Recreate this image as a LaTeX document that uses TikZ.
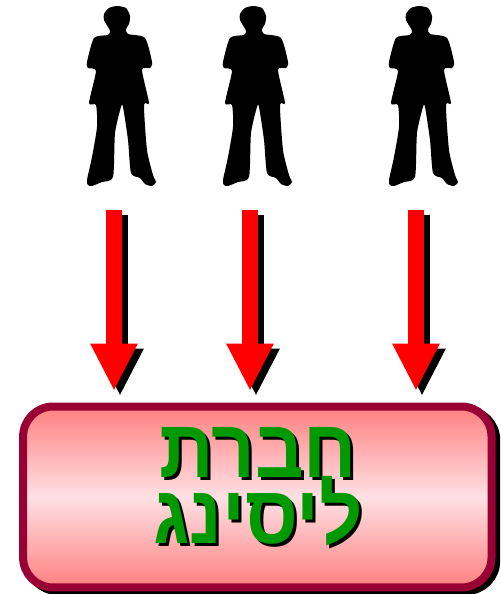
\documentclass[tikz,border=0pt]{standalone}
\usepackage{fontspec}
\usepackage{xcolor}
\usetikzlibrary{arrows.meta,positioning,calc}
\TeXXeTstate=1
\newfontfamily\hebfont[Script=Hebrew,FakeStretch=0.92]{Liberation Sans}
\definecolor{boxedge}{RGB}{153,0,51}
\definecolor{boxouter}{RGB}{255,128,128}
\definecolor{boxinner}{RGB}{255,224,228}
\definecolor{textgreen}{RGB}{0,153,0}
\tikzset{
  listbox/.style={rounded corners=0.6cm, minimum width=9.37cm, minimum height=3.62cm, line width=0.16cm},
  listtext/.style={font=\hebfont\fontsize{47}{47}\selectfont\bfseries, inner sep=0pt, anchor=base},
  downarr/.style={-{Triangle[length=0.95cm,width=0.88cm]}, line width=0.32cm},
  person/.pic={
    \fill[black] plot[smooth cycle, tension=0.4] coordinates {
      (-2,6) (-10,8) (-15,14) (-15,20) (-11,27) (-9,31) (-11,35) (-25,38) (-32,62) (-31,68) (-23,71) (-30,103)
      (-23,105) (-22,127) (-27,157) (-32,180) (-31,185) (-27,186) (-17,182) (-6,177) (-4,133) (2,107)
      (4,107) (9,140) (12,173) (21,178) (26,184) (33,186) (37,182) (34,175) (28,150) (25,105) (30,103)
      (23,70) (31,68) (33,62) (26,38) (9,34) (7,29) (10,24) (11,16) (7,8)};
  },
}
\begin{document}
\begin{tikzpicture}[x=0.02cm,y=-0.02cm]
  \useasboundingbox (0,0) rectangle (500,594);
  % people and arrows
  \foreach \n/\px in {1/119,2/255,3/421}{
    \pic at (\px,0) {person};
    \coordinate (arrtop\n) at ({\px-5},210);
    \coordinate (arrtip\n) at ({\px-5},391);
    \draw[downarr, black] ([shift={(6,5)}]arrtop\n) -- ([shift={(6,5)}]arrtip\n);
    \draw[downarr, red] (arrtop\n) -- (arrtip\n);
  }
  % company box
  \node[listbox, draw=black, fill=black] at (262,500.5) {};
  \node[listbox, draw=boxedge, top color=boxouter, bottom color=boxouter, middle color=boxinner] (company) at (257.3,497) {};
  \node[listtext, black, shift={(3,3)}] at (258,477) {\beginR חברת\endR};
  \node[listtext, black, shift={(3,3)}] at (258,543) {\beginR ליסינג\endR};
  \node[listtext, textgreen] (line1) at (258,477) {\beginR חברת\endR};
  \node[listtext, textgreen] (line2) at (258,543) {\beginR ליסינג\endR};
\end{tikzpicture}
\end{document}
